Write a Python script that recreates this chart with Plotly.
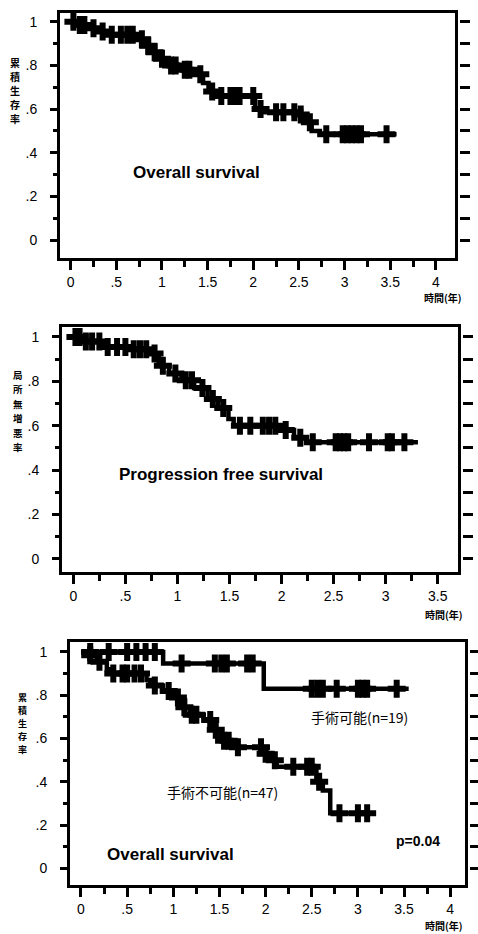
import plotly.graph_objects as go

W, H = 478, 934

# ---------------- data ----------------
os_step_t = [0, 0.08, 0.2, 0.3, 0.4, 0.72, 0.8, 0.88, 0.96, 1.05, 1.2, 1.38, 1.45, 1.51, 1.6, 2.02, 2.11, 2.47, 2.57, 2.64, 2.73]
os_step_s = [1.0, 0.985, 0.97, 0.955, 0.94, 0.92, 0.89, 0.86, 0.83, 0.80, 0.78, 0.76, 0.72, 0.68, 0.66, 0.60, 0.585, 0.575, 0.54, 0.50, 0.485]
os_end = 3.57
os_censor = [0.03, 0.1, 0.15, 0.25, 0.35, 0.45, 0.55, 0.62, 0.68, 0.78, 0.85, 0.92, 1.0, 1.1, 1.15, 1.25,
             1.3, 1.42, 1.55, 1.65, 1.75, 1.8, 1.85, 2.0, 2.08, 2.25, 2.33, 2.45, 2.52, 2.62, 2.8,
             2.98, 3.03, 3.08, 3.13, 3.18, 3.46]

pfs_step_t = [0, 0.1, 0.28, 0.52, 0.73, 0.82, 0.92, 1.04, 1.16, 1.29, 1.39, 1.49, 1.54, 1.99, 2.12, 2.24]
pfs_step_s = [1.0, 0.98, 0.955, 0.945, 0.925, 0.87, 0.835, 0.805, 0.77, 0.72, 0.68, 0.63, 0.60, 0.58, 0.545, 0.525]
pfs_end = 3.31
pfs_censor = [0.02, 0.06, 0.12, 0.18, 0.25, 0.33, 0.42, 0.5, 0.58, 0.64, 0.7, 0.78, 0.86, 0.98, 1.08, 1.14,
              1.24, 1.34, 1.44, 1.6, 1.7, 1.82, 1.88, 1.94, 2.04, 2.18, 2.3, 2.52, 2.56, 2.6, 2.64,
              2.84, 3.02, 3.06, 3.18]

op_step_t = [0, 0.89, 1.98]
op_step_s = [1.0, 0.947, 0.83]
op_end = 3.55
op_censor = [0.1, 0.3, 0.5, 0.6, 0.7, 0.8, 1.09, 1.45, 1.52, 1.58, 1.8, 1.86, 2.5, 2.56, 2.62, 2.77,
             3.0, 3.05, 3.1, 3.42]

inop_step_t = [0, 0.06, 0.17, 0.28, 0.35, 0.71, 0.75, 0.89, 1.0, 1.09, 1.18, 1.33, 1.43, 1.51, 1.65,
               1.98, 2.05, 2.12, 2.55, 2.62, 2.70]
inop_step_s = [1.0, 0.985, 0.955, 0.92, 0.90, 0.87, 0.845, 0.82, 0.79, 0.745, 0.71, 0.685, 0.64, 0.59,
               0.56, 0.53, 0.50, 0.47, 0.40, 0.36, 0.255]
inop_end = 3.17
inop_censor = [0.1, 0.2, 0.35, 0.45, 0.5, 0.58, 0.65, 0.8, 0.95, 1.05, 1.12, 1.2, 1.25, 1.4, 1.46,
               1.55, 1.6, 1.7, 1.95, 2.0, 2.1, 2.3, 2.45, 2.5, 2.58, 2.8, 3.0, 3.1]

y_tickvals = [0, 0.2, 0.4, 0.6, 0.8, 1.0]
y_ticktext = ["0", ".2", ".4", ".6", ".8", "1"]
x_tickvals4 = [0, 0.5, 1, 1.5, 2, 2.5, 3, 3.5, 4]
x_ticktext4 = ["0", ".5", "1", "1.5", "2", "2.5", "3", "3.5", "4"]
x_tickvals35 = [0, 0.5, 1, 1.5, 2, 2.5, 3, 3.5]
x_ticktext35 = ["0", ".5", "1", "1.5", "2", "2.5", "3", "3.5"]
x_minor4 = [0.25, 0.75, 1.25, 1.75, 2.25, 2.75, 3.25, 3.75]
x_minor35 = [0.25, 0.75, 1.25, 1.75, 2.25, 2.75, 3.25]


def km_line(times, surv, end):
    return list(times) + [end], list(surv) + [surv[-1]]


def surv_at(times, surv, t):
    s = surv[0]
    for ti, si in zip(times, surv):
        if ti <= t:
            s = si
    return s


fig = go.Figure()


def add_curve(times, surv, end, censor, xa, ya):
    lx, ly = km_line(times, surv, end)
    fig.add_trace(go.Scatter(x=lx, y=ly, mode="lines", line=dict(shape="hv", color="black", width=4.5),
                             xaxis=xa, yaxis=ya, showlegend=False, hoverinfo="skip"))
    cy = [surv_at(times, surv, t) for t in censor]
    fig.add_trace(go.Scatter(x=censor, y=cy, mode="markers",
                             marker=dict(symbol="cross", size=15, color="black", line=dict(width=0)),
                             xaxis=xa, yaxis=ya, showlegend=False, hoverinfo="skip"))


add_curve(os_step_t, os_step_s, os_end, os_censor, "x", "y")
add_curve(pfs_step_t, pfs_step_s, pfs_end, pfs_censor, "x2", "y2")
add_curve(op_step_t, op_step_s, op_end, op_censor, "x3", "y3")
add_curve(inop_step_t, inop_step_s, inop_end, inop_censor, "x3", "y3")

# invisible points on the right-hand tick-only axes
for ya_right, xa_main in [("y4", "x"), ("y5", "x2"), ("y6", "x3")]:
    fig.add_trace(go.Scatter(x=[0], y=[0], xaxis=xa_main, yaxis=ya_right, mode="markers",
                             marker=dict(opacity=0), showlegend=False, hoverinfo="skip"))

tickfont = dict(family="Liberation Sans, Arial, sans-serif", size=14, color="black")


def xax(domain, rng, anchor, tv, tt):
    return dict(domain=domain, range=rng, anchor=anchor, tickmode="array", tickvals=tv, ticktext=tt,
                ticks="outside", ticklen=9, tickwidth=3, tickcolor="black", ticklabelstandoff=0,
                showline=True, linewidth=3, linecolor="black", mirror=True,
                showgrid=False, zeroline=False, tickfont=tickfont,
                minor=dict(tickmode="linear", tick0=0, dtick=0.25, ticks="outside", ticklen=6,
                           tickwidth=3, tickcolor="black", showgrid=False))


def yax(domain, rng, anchor):
    return dict(domain=domain, range=rng, anchor=anchor, tickmode="array", tickvals=y_tickvals,
                ticktext=y_ticktext, ticks="outside", ticklen=7, tickwidth=3, tickcolor="black",
                ticklabelstandoff=10,
                showline=True, linewidth=3, linecolor="black", mirror=True,
                showgrid=False, zeroline=False, tickfont=tickfont,
                minor=dict(tickmode="linear", tick0=0, dtick=0.1, ticks="outside", ticklen=4,
                           tickwidth=3, tickcolor="black", showgrid=False))


def right_ax(domain, rng, pos):
    return dict(domain=domain, range=rng, anchor="free", position=pos, side="right",
                tickmode="linear", tick0=0, dtick=0.1, ticks="outside", ticklen=10, tickwidth=3,
                tickcolor="black", showticklabels=False, showline=False, showgrid=False,
                zeroline=False, fixedrange=True)


def px_dom_x(a, b):
    return [a / W, b / W]


def px_dom_y(top, bottom):
    return [1 - bottom / H, 1 - top / H]


r1x, r1y = [-0.117, 4.21], [-0.082, 1.04]
r2x, r2y = [-0.109, 3.695], [-0.06, 1.045]
r3x, r3y = [-0.119, 4.16], [-0.077, 1.046]

f1 = (13, 258)
f2 = (327, 572)
f3 = (642, 885)
d1x, d1y = px_dom_x(60, 455), px_dom_y(*f1)
d2x, d2y = px_dom_x(62, 458), px_dom_y(*f2)
d3x, d3y = px_dom_x(70, 465), px_dom_y(*f3)


# tick marks along the top and bottom frame edges, drawn as vertical-line markers
# just outside the frame (positions derived from the axis ranges)
def edge_ticks(major, minor, rng_y, frame_px, xa, ya):
    unit = (rng_y[1] - rng_y[0]) / (frame_px[1] - frame_px[0])  # data units per pixel
    specs = [
        (major + minor, rng_y[1] + 4.5 * unit, 6),   # top row (all quarter ticks)
        (major, rng_y[0] - 6.0 * unit, 9),          # bottom major ticks
        (minor, rng_y[0] - 4.5 * unit, 6),          # bottom minor ticks
    ]
    for xs, yv, sz in specs:
        fig.add_trace(go.Scatter(x=xs, y=[yv] * len(xs), xaxis=xa, yaxis=ya, mode="markers",
                                 cliponaxis=False,
                                 marker=dict(symbol="line-ns", size=sz, color="black",
                                             line=dict(color="black", width=3.5)),
                                 showlegend=False, hoverinfo="skip"))


edge_ticks(x_tickvals4, x_minor4, r1y, f1, "x", "y")
edge_ticks(x_tickvals35, x_minor35, r2y, f2, "x2", "y2")
edge_ticks(x_tickvals4, x_minor4, r3y, f3, "x3", "y3")

fig.update_layout(
    width=W, height=H, margin=dict(l=0, r=0, t=0, b=0),
    paper_bgcolor="white", plot_bgcolor="rgba(0,0,0,0)",
    xaxis=xax(d1x, r1x, "y", x_tickvals4, x_ticktext4),
    yaxis=yax(d1y, r1y, "x"),
    xaxis2=xax(d2x, r2x, "y2", x_tickvals35, x_ticktext35),
    yaxis2=yax(d2y, r2y, "x2"),
    xaxis3=xax(d3x, r3x, "y3", x_tickvals4, x_ticktext4),
    yaxis3=yax(d3y, r3y, "x3"),
    yaxis4=right_ax(d1y, r1y, 459 / W),
    yaxis5=right_ax(d2y, r2y, 462 / W),
    yaxis6=right_ax(d3y, r3y, 469 / W),
)

bold = dict(family="Liberation Sans, Arial, sans-serif", size=17, color="black")
jp = "Noto Sans CJK JP"

ann = [
    dict(text="<b>Overall survival</b>", x=1.38, y=0.31, xref="x", yref="y", font=bold),
    dict(text="<b>Progression free survival</b>", x=1.42, y=0.38, xref="x2", yref="y2", font=bold),
    dict(text="<b>Overall survival</b>", x=0.97, y=0.065, xref="x3", yref="y3", font=bold),
    dict(text="<b>p=0.04</b>", x=3.65, y=0.125, xref="x3", yref="y3",
         font=dict(family="Liberation Sans, Arial, sans-serif", size=14, color="black")),
    dict(text="手術可能(n=19)", x=3.02, y=0.70, xref="x3", yref="y3",
         font=dict(family=jp, size=14, color="black")),
    dict(text="手術不可能(n=47)", x=1.53, y=0.354, xref="x3", yref="y3",
         font=dict(family=jp, size=14, color="black")),
]
for cx, cy in [(443, 298), (444, 614), (444, 925)]:
    ann.append(dict(text="<b>時間(年)</b>", x=cx / W, y=1 - cy / H, xref="paper", yref="paper",
                    font=dict(family=jp, size=10, color="black")))
for txt, cx, cy0, step, fs in [("累積生存率", 15, 63, 14, 10), ("局所無増悪率", 18, 375, 14.5, 9.5),
                               ("累積生存率", 22, 697, 13, 9)]:
    for i, ch in enumerate(txt):
        ann.append(dict(text="<b>" + ch + "</b>", x=cx / W, y=1 - (cy0 + i * step) / H,
                        xref="paper", yref="paper",
                        font=dict(family=jp, size=fs, color="black")))
for a in ann:
    a.update(showarrow=False, xanchor="center", yanchor="middle")
fig.update_layout(annotations=ann)

fig.write_html("out.html", post_script="document.body.style.margin='0';",
               config={"displayModeBar": False})
